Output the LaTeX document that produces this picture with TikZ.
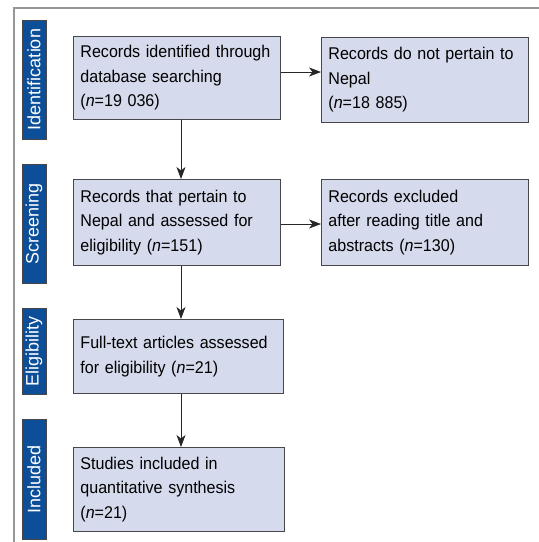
\documentclass[tikz,border=0pt]{standalone}
\usepackage{fontspec}
\setmainfont{Liberation Sans}
\newfontfamily\boxfont{Liberation Sans}[FakeStretch=0.945]
\usetikzlibrary{arrows.meta}
\definecolor{barblue}{RGB}{12,78,152}
\definecolor{boxfill}{RGB}{213,218,236}
\definecolor{boxline}{RGB}{70,70,75}
\definecolor{framegray}{RGB}{150,150,150}
\tikzset{
  phase/.style={draw=boxline, fill=barblue, text=white, line width=0.8pt,
    font=\fontsize{18}{20}\selectfont, rotate=90, inner sep=0pt, minimum height=24pt},
  flowbox/.style={draw=boxline, fill=boxfill, line width=0.9pt, anchor=north west,
    align=left, inner xsep=7pt, inner ysep=0pt,
    font=\boxfont\fontsize{17}{24.5}\selectfont},
  flowarrow/.style={draw=black!85, line width=0.8pt, -{Stealth[length=12pt,width=9pt,inset=3.5pt]}}
}
\begin{document}
\begin{tikzpicture}[x=1pt,y=-1pt]
\useasboundingbox[fill=white] (0,0) rectangle (539,542);
\draw[framegray, line width=1.3pt] (539,8) -- (14,8) -- (14,542);
% phase bars
\node[phase, minimum width=119pt] (pid) at (34,79.5) {Identification};
\node[phase, minimum width=119pt] (psc) at (34,223.5) {Screening};
\node[phase, minimum width=86pt] (pel) at (34,351) {Eligibility};
\node[phase, minimum width=120pt] (pin) at (34,479) {Included};
% boxes
\node[flowbox, minimum width=207pt, minimum height=83pt, text width=193pt] (b1) at (73,36)
  {Records identified through\\database searching\\(\textit{n}=19 036)};
\node[flowbox, minimum width=207pt, minimum height=85pt, text width=193pt] (r1) at (321,37)
  {Records do not pertain to\\Nepal\\(\textit{n}=18 885)};
\node[flowbox, minimum width=207pt, minimum height=86pt, text width=193pt] (b2) at (73,179)
  {Records that pertain to\\Nepal and assessed for\\eligibility (\textit{n}=151)};
\node[flowbox, minimum width=207pt, minimum height=86pt, text width=193pt] (r2) at (321,179)
  {Records excluded\\after reading title and\\abstracts (\textit{n}=130)};
\node[flowbox, minimum width=210pt, minimum height=74pt, text width=196pt] (b3) at (73,319)
  {Full-text articles assessed\\for eligibility (\textit{n}=21)};
\node[flowbox, minimum width=211pt, minimum height=84pt, text width=197pt] (b4) at (73,447)
  {Studies included in\\quantitative synthesis\\(\textit{n}=21)};
% guide coordinates
\coordinate (ax) at (181,0);
\coordinate (ay1) at (0,72);
\coordinate (ay2) at (0,224);
% arrows
\draw[flowarrow] (b1.south -| ax) -- (b2.north -| ax);
\draw[flowarrow] (b2.south -| ax) -- (b3.north -| ax);
\draw[flowarrow] (b3.south -| ax) -- (b4.north -| ax);
\draw[flowarrow] (b1.east |- ay1) -- (r1.west |- ay1);
\draw[flowarrow] (b2.east |- ay2) -- (r2.west |- ay2);
\end{tikzpicture}
\end{document}
